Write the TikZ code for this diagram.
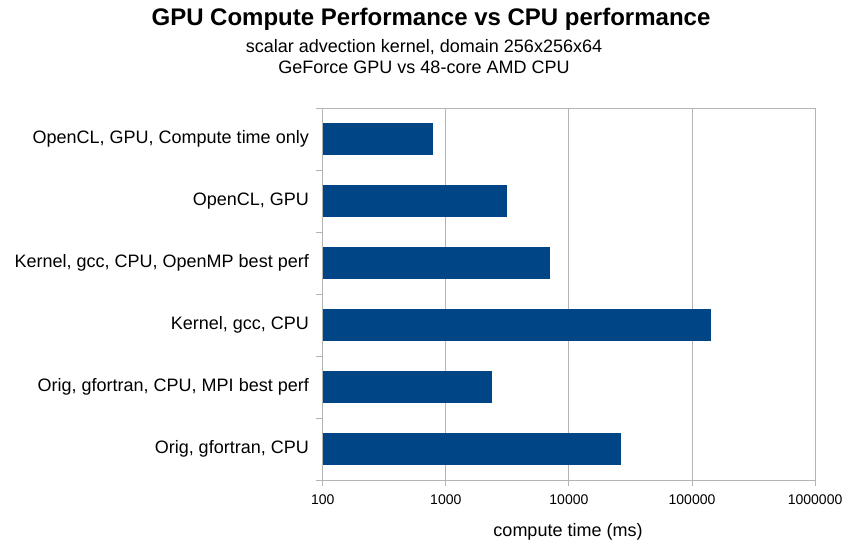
\documentclass[tikz,border=0pt]{standalone}
\usepackage{fontspec}
\setmainfont{Liberation Sans}
\usetikzlibrary{positioning}
\definecolor{chartblue}{HTML}{004586}
\definecolor{gridgray}{HTML}{B3B3B3}
\tikzstyle{bar} = [fill=chartblue]
\tikzstyle{gridline} = [gridgray, line width=1pt]
\tikzstyle{catlabel} = [anchor=east, inner sep=0pt, font=\fontsize{18}{21}\selectfont]
\tikzstyle{ticklabel} = [anchor=north, inner sep=0pt, font=\fontsize{14}{16}\selectfont]

\begin{document}
\begin{tikzpicture}[x=1pt,y=-1pt]
	\useasboundingbox (0,0) rectangle (843,541);
	% titles
	\node (title) at (431,19) {\bfseries\fontsize{24}{28}\selectfont GPU Compute Performance vs CPU performance};
	\node[align=center, font=\fontsize{18}{21}\selectfont] (subtitle) at (424,57) {scalar advection kernel, domain 256x256x64\\GeForce GPU vs 48-core AMD CPU};
	% grid, one line per decade
	\foreach \d in {0,...,4}
		\draw[gridline] ({322.7+123.1*\d},108) -- ({322.7+123.1*\d},486);
	\draw[gridline] (316,108) -- (815,108);
	\draw[gridline] (322.7,480) -- (815,480);
	\foreach \k in {0,...,6}
		\draw[gridline] (316,{108+62*\k}) -- (322.7,{108+62*\k});
	% bars, value given as log10 of compute time in ms
	\foreach \i/\lab/\v in {1/{OpenCL, GPU, Compute time only}/2.896,
			2/{OpenCL, GPU}/3.494,
			3/{Kernel, gcc, CPU, OpenMP best perf}/3.845,
			4/{Kernel, gcc, CPU}/5.152,
			5/{Orig, gfortran, CPU, MPI best perf}/3.375,
			6/{Orig, gfortran, CPU}/4.423} {
		\fill[bar] (322.7,{123.15+62*(\i-1)}) rectangle ({322.7+123.1*(\v-2)},{154.85+62*(\i-1)});
		\node[catlabel] (lab\i) at (309,{139+62*(\i-1)}) {\lab};
	}
	% x axis
	\foreach \d/\t in {0/100,1/1000,2/10000,3/100000,4/1000000}
		\node[ticklabel] (tick\d) at ({322.7+123.1*\d},495) {\t};
	\node[font=\fontsize{18}{21}\selectfont] (xtitle) at (568,532) {compute time (ms)};
\end{tikzpicture}
\end{document}
